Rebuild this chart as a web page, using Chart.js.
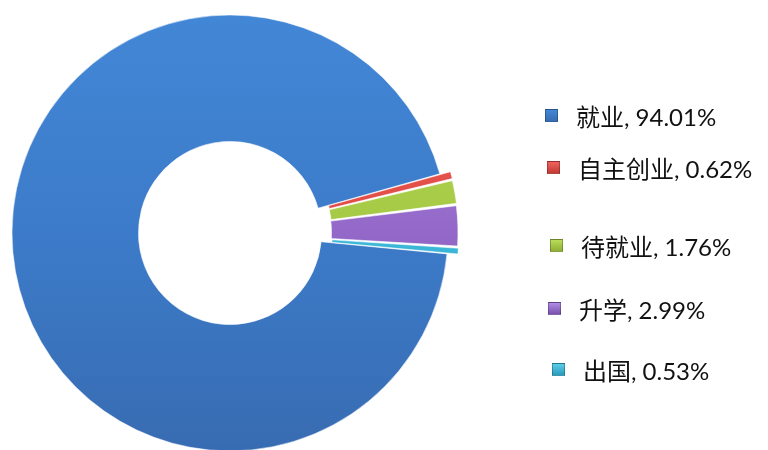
<!DOCTYPE html>
<html>
<head>
<meta charset="utf-8">
<script src="https://cdn.jsdelivr.net/npm/chart.js@4/dist/chart.umd.min.js"></script>
<style>
    body { margin: 0; background: #fff; }
    #wrap { position: relative; width: 768px; height: 450px; }
    #legend { position: absolute; left: 0; top: 0; }
    .item { position: absolute; font-family: Lato, "Noto Sans CJK SC", sans-serif; font-size: 24px; color: #111; white-space: nowrap; }
    .box { position: absolute; width: 11px; height: 11px; border: 1px solid rgba(0,0,0,0.25); }
</style>
</head>
<body>
<div id="wrap">
    <canvas id="pieChart" width="768" height="450"></canvas>
    <div id="legend"></div>
</div>
<script>
let categories = ['就业', '自主创业', '待就业', '升学', '出国'];
let percents = [94.01, 0.62, 1.76, 2.99, 0.53];
let sliceColors = ['#3c7bc9', '#e04a44', '#a5c944', '#9368c8', '#3cb8d8'];
let topColors = ['#4287d6', '#f0635c', '#b9dc5a', '#b08ce6', '#5ccbe8'];
let bottomColors = ['#386cb2', '#c33a35', '#8fb035', '#7a52ad', '#2a9dbc'];
// the small slices are pulled out of the ring
let explode = [0, 22, 22, 22, 22];

// legend rows are not evenly spaced in the original
let legendY = [115, 167, 245, 308, 369];
let legendX = [545, 547, 550, 548, 552];

function sliceFill(context) {
    let chart = context.chart;
    let i = context.dataIndex;
    let area = chart.chartArea;
    if (!area) return sliceColors[i];
    let g = chart.ctx.createLinearGradient(0, area.top, 0, area.bottom);
    g.addColorStop(0, topColors[i]);
    g.addColorStop(0.5, sliceColors[i]);
    g.addColorStop(1, bottomColors[i]);
    return g;
}

let ctx = document.getElementById('pieChart').getContext('2d');
new Chart(ctx, {
    type: 'doughnut',
    data: {
        labels: categories,
        datasets: [{
            data: percents,
            backgroundColor: sliceFill,
            borderColor: 'rgba(255,255,255,0.55)',
            borderWidth: 1,
            offset: explode,
            hoverOffset: 0
        }]
    },
    options: {
        responsive: false,
        animation: false,
        rotation: 95.5,
        radius: 218,
        cutout: '42%',
        layout: { padding: { top: 16, right: 308, left: 0, bottom: 0 } },
        plugins: {
            legend: { display: false },
            tooltip: { enabled: false }
        }
    }
});

let legend = document.getElementById('legend');
categories.forEach((name, i) => {
    let box = document.createElement('div');
    box.className = 'box';
    box.style.left = legendX[i] + 'px';
    box.style.top = (legendY[i] - 6) + 'px';
    box.style.background = 'linear-gradient(' + topColors[i] + ',' + bottomColors[i] + ')';
    legend.appendChild(box);

    let label = document.createElement('div');
    label.className = 'item';
    label.style.left = (legendX[i] + 31) + 'px';
    label.style.top = (legendY[i] - 17) + 'px';
    label.textContent = name + ', ' + percents[i].toFixed(2) + '%';
    legend.appendChild(label);
});
</script>
</body>
</html>
